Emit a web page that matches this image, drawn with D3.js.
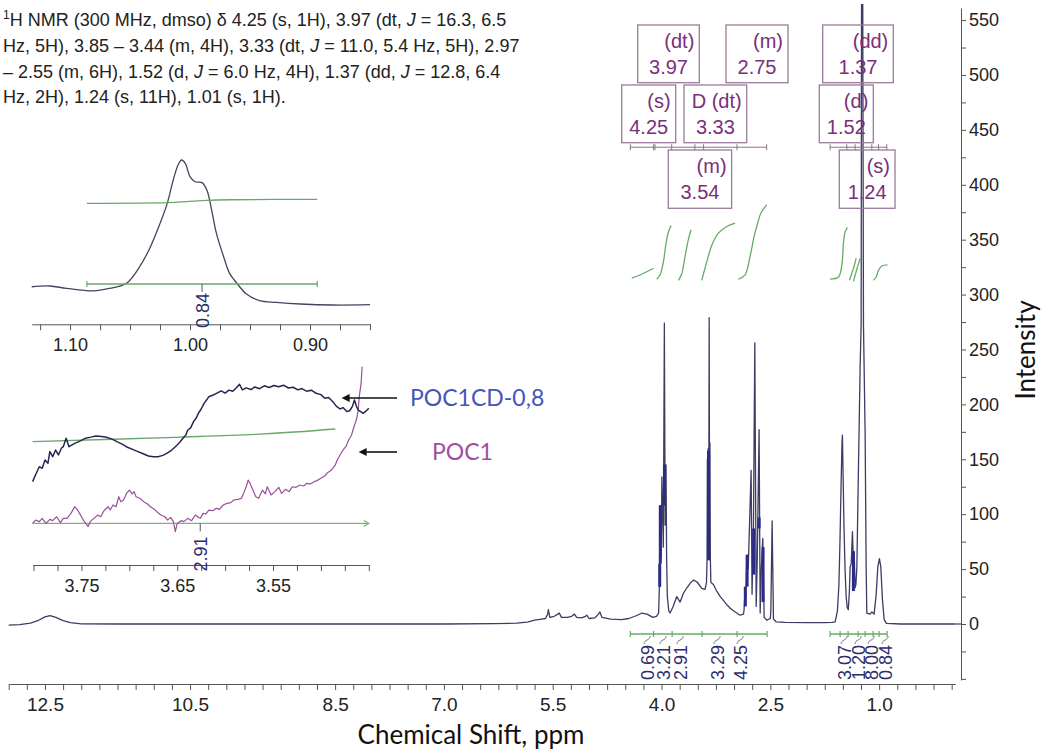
<!DOCTYPE html>
<html>
<head>
<meta charset="utf-8">
<script src="https://cdn.jsdelivr.net/npm/d3@7"></script>
<style>
body { margin: 0; background: #fff; }
svg { display: block; }
text { font-family: "Liberation Sans", Arial, sans-serif; }
</style>
</head>
<body>
<div id="chart"></div>
<script>
var svg_width = 1041;
var svg_height = 749;

// ---------- data ----------

// Main spectrum [ppm, intensity]
var spectrum = [
  [13.0,-1],[12.85,-0.5],[12.7,0.8],[12.6,3],[12.5,6.5],[12.43,7.6],[12.35,6],[12.25,3],[12.15,1.2],[12.0,0.2],
  [11.5,0],[9.0,0],[7.0,0],[6.3,0.3],[6.0,0.8],[5.85,1.8],[5.75,3.5],[5.65,4.5],[5.6,5],[5.57,9],[5.56,13],[5.54,6],
  [5.48,7],[5.43,9],[5.41,10],[5.38,6],[5.3,6],[5.24,7],[5.2,9],[5.17,6],[5.1,5.5],[5.05,7],[5.03,8],[5.0,5],
  [4.92,5.5],[4.87,9],[4.85,11],[4.82,6],[4.7,4.5],[4.55,4],[4.45,5],[4.35,7.5],[4.27,10],[4.2,9],[4.12,6],[4.07,7],[4.04,10],
  [4.03,34],[4.024,55],[4.02,34],[4.016,108],[4.005,60],[3.995,134],[3.975,70],[3.961,274],[3.950,90],[3.938,145],
  [3.93,60],[3.92,25],[3.90,12],[3.882,10],
  [3.84,16],[3.79,25],[3.744,20],[3.698,28],[3.65,33],[3.606,37],[3.56,40],[3.514,38.5],[3.478,35.5],[3.445,32.5],[3.40,31.6],[3.38,38],
  [3.372,60],[3.368,150],[3.362,70],[3.356,160],[3.350,80],[3.343,279],[3.338,90],[3.333,165],[3.327,60],[3.32,38],
  [3.285,36],[3.24,30],[3.19,25],[3.10,17.6],[3.055,14.6],[3.01,12],[2.917,8],[2.87,9],[2.862,13],
  [2.848,31],[2.842,20],[2.835,35],[2.824,61],[2.815,63],[2.805,50],[2.765,140],[2.752,27],[2.733,87],[2.714,256],
  [2.695,16],[2.68,60],[2.655,177],[2.64,10],[2.625,50],[2.604,78],[2.585,6],[2.549,3.6],[2.50,5],[2.493,12],[2.475,94],
  [2.457,4.5],[2.42,2],[2.3,1.5],[2.0,1.2],[1.75,1.2],[1.65,1.5],
  [1.607,2],[1.575,12],[1.555,35],[1.54,75],[1.525,125],[1.512,165],[1.506,172],[1.498,140],[1.485,90],[1.47,50],
  [1.455,25],[1.44,15],[1.425,13],[1.41,30],[1.40,52],[1.385,55],[1.368,84],[1.358,64],[1.345,66],[1.331,33],[1.32,36],
  [1.307,52],[1.285,143],[1.262,234],[1.248,273],[1.241,650],[1.229,650],[1.216,273],[1.193,173],[1.179,52],[1.17,10],
  [1.124,9],[1.10,11],[1.069,9],[1.041,27],[1.018,52],[0.996,59.5],[0.977,52],[0.954,22],[0.931,4],[0.9,0.5],[0.7,0],[-0.05,0]
];

// overlapping lines that print as a dark band [ppm, low, high]
var dense_bands = [
  [4.025,34,55],[4.017,55,108],[3.96,108,145],[3.352,58,158],
  [2.845,16,34],[2.82,34,63],[2.73,45,87],[2.655,87,97],[2.60,20,70],[1.355,30,66]
];

var x_tick_labels = [12.5, 10.5, 8.5, 7.0, 5.5, 4.0, 2.5, 1.0];

// integrals under the spectrum
var integral_left = ["0.69", "3.21", "2.91", "3.29", "4.25"];
var integral_right = ["3.07", "1.20", "8.00", "0.84"];
var integral_left_ticks = [4.43, 4.11, 3.854, 3.44, 2.958, 2.545];
var integral_right_ticks = [1.676, 1.538, 1.428, 1.29, 1.193, 1.083, 1.0, 0.89];

// integral curves [ppm, intensity]
var integral_curves = [
  [[4.41,315],[4.26,319],[4.11,324]],
  [[4.065,314],[4.02,318],[3.974,330],[3.937,347],[3.905,357],[3.868,363]],
  [[3.767,313],[3.721,319],[3.675,335],[3.63,350],[3.593,359]],
  [[3.445,313],[3.376,330],[3.307,345],[3.216,356],[3.10,362],[2.986,365]],
  [[2.94,314],[2.848,318],[2.779,335],[2.724,353],[2.687,362],[2.631,374],[2.549,382]],
  [[1.676,314],[1.561,316],[1.514,327],[1.492,347],[1.469,357],[1.437,361]],
  [[1.41,313],[1.363,322],[1.317,333]],
  [[1.354,312],[1.299,325],[1.262,333]],
  [[1.079,313],[1.04,316],[1.01,322],[0.963,326],[0.886,327]]
];

// multiplet labels
var multiplet_kind = ["(dt)", "(m)", "(s)", "D (dt)", "(m)", "(dd)", "(d)", "(s)"];
var multiplet_shift = ["3.97", "2.75", "4.25", "3.33", "3.54", "1.37", "1.52", "1.24"];
var multiplet_left_ticks = [4.43, 4.11, 4.09, 3.86, 3.54, 3.42, 2.96, 2.55];
var multiplet_right_ticks = [1.676, 1.446, 1.331, 1.216, 1.101, 1.009, 0.894];

// inset 1 : peak near 1.00 ppm [ppm, relative]
var inset1_trace = [
  [1.132,12.6],[1.117,13.1],[1.103,11.5],[1.081,9.7],[1.067,11.5],[1.053,15],[1.042,26.4],[1.033,40.2],
  [1.025,56.3],[1.019,70.1],[1.014,86.2],[1.010,96.6],[1.007,100],[1.004,97.7],[1.000,88.5],[0.996,85],
  [0.990,84.4],[0.986,79.3],[0.982,65.5],[0.978,49.4],[0.972,33.3],[0.967,21.8],[0.961,15],[0.953,7.6],
  [0.942,3],[0.928,1.8],[0.908,0.7],[0.881,0],[0.85,0.2]
];
var inset1_integral = [[1.086,70.1],[1.019,70.6],[1.003,71.3],[0.986,72.2],[0.964,72.6],[0.894,72.9]];
var inset1_ticks = [1.10, 1.00, 0.90];
var inset1_value = "0.84";

// inset 2 : 3.45 - 3.80 ppm, two samples [ppm, relative]
var inset2_poc1cd = [
  [3.801,29.9],[3.798,34.5],[3.794,40.2],[3.791,39.1],[3.788,44.8],[3.785,42.5],[3.783,50.6],[3.780,47.1],
  [3.777,51.7],[3.774,48.3],[3.771,52.9],[3.769,54],[3.766,59.8],[3.763,54],[3.757,56.3],[3.751,58],
  [3.746,59.8],[3.740,60.6],[3.735,61.4],[3.729,61],[3.724,60.5],[3.718,59.2],[3.713,57.5],[3.707,55.6],
  [3.702,53.6],[3.696,52],[3.691,50.6],[3.685,49],[3.680,47.6],[3.675,47],[3.670,47.1],[3.665,48],
  [3.661,49.4],[3.656,51.5],[3.652,54],[3.648,56.5],[3.644,59.8],[3.641,62],[3.639,65.5],[3.636,67],
  [3.633,71.3],[3.630,74],[3.628,77],[3.625,80],[3.622,83.9],[3.619,86.5],[3.617,88.5],[3.613,89.5],
  [3.609,90.8],[3.604,92.5],[3.600,91],[3.596,93],[3.592,92.2],[3.588,94.8],[3.585,97],[3.582,93.2],
  [3.578,94.6],[3.573,93.4],[3.569,95.2],[3.564,94],[3.559,96],[3.554,94.8],[3.549,96.2],[3.544,95.3],
  [3.539,96.4],[3.534,94.5],[3.529,95],[3.524,93.2],[3.520,94.1],[3.515,92.3],[3.510,93],[3.505,90.8],
  [3.500,89.9],[3.496,87.4],[3.492,88],[3.487,84.6],[3.484,82],[3.480,80],[3.477,81],[3.473,78.2],
  [3.470,78.8],[3.467,82],[3.465,86.2],[3.463,82],[3.461,79.3],[3.458,78],[3.456,77],[3.453,78.5],[3.450,80.5]
];
var inset2_poc1 = [
  [3.801,1.1],[3.798,3.4],[3.794,2.3],[3.791,4.6],[3.787,1.1],[3.783,3.9],[3.780,3.0],[3.776,5.7],
  [3.772,1.6],[3.769,4.6],[3.765,4.6],[3.761,8.0],[3.757,12.6],[3.754,10.3],[3.752,8.0],[3.748,3.4],
  [3.743,-1.1],[3.741,2.3],[3.737,4.6],[3.733,6.9],[3.730,5.7],[3.726,10.3],[3.722,12.6],[3.720,10.3],
  [3.717,13.8],[3.714,12.6],[3.711,19.5],[3.709,16.1],[3.706,17.2],[3.703,21.8],[3.700,24.1],[3.697,21.4],
  [3.695,23],[3.693,19.5],[3.689,18.4],[3.685,16.1],[3.681,14.5],[3.678,12.6],[3.674,10.8],[3.670,8.5],
  [3.667,6.9],[3.663,5.7],[3.660,3.4],[3.657,5.3],[3.654,2.3],[3.652,-4.6],[3.650,1.1],[3.646,3.0],
  [3.643,2.3],[3.639,4.6],[3.635,3.0],[3.631,6.9],[3.628,5.3],[3.626,4.6],[3.623,8.0],[3.620,7.6],
  [3.617,10.3],[3.613,9.9],[3.609,11.5],[3.606,10.8],[3.602,13.8],[3.598,14.9],[3.594,15.4],[3.591,17.2],
  [3.587,17.7],[3.583,18.4],[3.580,23],[3.578,26.4],[3.576,31],[3.574,28.7],[3.571,24.1],[3.568,19.5],
  [3.565,18.4],[3.561,24.1],[3.558,21.4],[3.556,26.4],[3.552,20.7],[3.548,23],[3.544,26],[3.541,21.8],
  [3.537,24.6],[3.533,23],[3.530,26.4],[3.526,26],[3.522,27.6],[3.518,26.9],[3.515,28.7],[3.511,28.3],
  [3.507,29.9],[3.504,30.6],[3.500,32.2],[3.496,33.8],[3.493,36.1],[3.489,37.9],[3.485,41.4],[3.483,44.8],
  [3.480,48.3],[3.477,51.7],[3.474,54],[3.471,58.6],[3.468,62.1],[3.466,66.7],[3.463,72.4],[3.461,79.3],
  [3.460,88.5],[3.458,97.7],[3.457,109.2]
];
var inset2_integral = [[3.801,57.5],[3.652,60.5],[3.559,62.8],[3.485,66.2]];
var inset2_ticks = [3.75, 3.65, 3.55];
var inset2_value = "2.91";
var sample_names = ["POC1CD-0,8", "POC1"];

// assignment text, [text, style]
var nmr_lines = [
  [["1", "sup"], ["H NMR (300 MHz, dmso) δ 4.25 (s, 1H), 3.97 (dt, ", "after"], ["J", "i"], [" = 16.3, 6.5"]],
  [["Hz, 5H), 3.85 – 3.44 (m, 4H), 3.33 (dt, "], ["J", "i"], [" = 11.0, 5.4 Hz, 5H), 2.97"]],
  [["– 2.55 (m, 6H), 1.52 (d, "], ["J", "i"], [" = 6.0 Hz, 4H), 1.37 (dd, "], ["J", "i"], [" = 12.8, 6.4"]],
  [["Hz, 2H), 1.24 (s, 11H), 1.01 (s, 1H)."]]
];

// ---------- layout ----------
var svg = d3.select("#chart").append("svg")
  .attr("width", svg_width)
  .attr("height", svg_height);

var x_scale = d3.scaleLinear().domain([13, -0.05]).range([8.7, 955.3]);
var y_scale = d3.scaleLinear().domain([-51, 561]).range([680, 8]);

var ink = "#3c3c64";
var green = "#66aa66";
var purple = "#7a2f7a";

svg.append("clipPath").attr("id", "plotclip")
  .append("rect").attr("x", 8).attr("y", 4).attr("width", 950).attr("height", 680);

// spectrum line
var line_main = d3.line()
  .x(d => x_scale(d[0]))
  .y(d => y_scale(d[1]));

var plot = svg.append("g").attr("clip-path", "url(#plotclip)");

plot.append("path")
  .datum(spectrum)
  .attr("d", line_main)
  .attr("fill", "none")
  .attr("stroke", ink)
  .attr("stroke-width", 1.3)
  .attr("stroke-linejoin", "round");

plot.selectAll(".dense")
  .data(dense_bands)
  .enter()
  .append("rect")
  .attr("x", d => x_scale(d[0]) - 1.5)
  .attr("width", 3)
  .attr("y", d => y_scale(d[2]))
  .attr("height", d => y_scale(d[1]) - y_scale(d[2]))
  .attr("fill", "#2b2b8c");

// x axis
var x_axis = d3.axisBottom(x_scale)
  .tickValues(d3.range(0, 53).map(i => 13 - i * 0.25))
  .tickSize(6)
  .tickSizeOuter(0)
  .tickPadding(8)
  .tickFormat(d => x_tick_labels.indexOf(d) >= 0 ? d.toFixed(1) : "");

var gx = svg.append("g")
  .attr("transform", "translate(0,684)")
  .call(x_axis);
gx.select(".domain").attr("stroke", "#555");
gx.selectAll(".tick line").attr("stroke", "#555");
gx.selectAll("text").attr("font-size", 19).attr("fill", "#222")
  .style("font-family", "'Liberation Sans', Arial, sans-serif");

// y axis on the right
var y_axis = d3.axisRight(y_scale)
  .tickValues(d3.range(-50, 551, 25))
  .tickSize(5)
  .tickSizeOuter(0)
  .tickPadding(3)
  .tickFormat(d => (d >= 0 && d % 50 === 0) ? d : "");

var gy = svg.append("g")
  .attr("transform", "translate(961,0)")
  .call(y_axis);
gy.select(".domain").attr("stroke", "#555");
gy.selectAll(".tick line").attr("stroke", "#555");
gy.selectAll("text").attr("font-size", 18).attr("fill", "#222")
  .style("font-family", "'Liberation Sans', Arial, sans-serif");

// baseline stub between spectrum end and axis
svg.append("line")
  .attr("x1", x_scale(-0.05)).attr("x2", 961)
  .attr("y1", y_scale(0)).attr("y2", y_scale(0))
  .attr("stroke", ink).attr("stroke-width", 1.2);

// axis titles
svg.append("text")
  .attr("x", 471).attr("y", 744)
  .attr("text-anchor", "middle")
  .style("font-family", "Lato, 'Open Sans', sans-serif")
  .attr("font-size", 26)
  .attr("fill", "#111")
  .text("Chemical Shift, ppm");

svg.append("text")
  .attr("transform", "translate(1035,350) rotate(-90)")
  .attr("text-anchor", "middle")
  .style("font-family", "Lato, 'Open Sans', sans-serif")
  .attr("font-size", 26)
  .attr("fill", "#111")
  .text("Intensity");

// ---------- integrals ----------
var line_curve = d3.line()
  .x(d => x_scale(d[0]))
  .y(d => y_scale(d[1]))
  .curve(d3.curveCatmullRom.alpha(0.5));

svg.selectAll(".intcurve")
  .data(integral_curves)
  .enter()
  .append("path")
  .attr("d", line_curve)
  .attr("fill", "none")
  .attr("stroke", green)
  .attr("stroke-width", 1.3);

var bar_y = y_scale(-9.1);
[integral_left_ticks, integral_right_ticks].forEach(function(ticks) {
  svg.append("line")
    .attr("x1", x_scale(ticks[0])).attr("x2", x_scale(ticks[ticks.length - 1]))
    .attr("y1", bar_y).attr("y2", bar_y)
    .attr("stroke", green).attr("stroke-width", 1.3);
  svg.selectAll(null)
    .data(ticks)
    .enter()
    .append("line")
    .attr("x1", d => x_scale(d)).attr("x2", d => x_scale(d))
    .attr("y1", bar_y - 3).attr("y2", bar_y + 3)
    .attr("stroke", green).attr("stroke-width", 1.2);
});

// label positions (ppm) under the bars
var int_left_at = [4.199, 3.979, 3.744, 3.234, 2.917];
var int_right_at = [1.483, 1.29, 1.11, 0.917];

function intLabel(value, px, top) {
  // small hook from the bar down to the label
  svg.append("path")
    .attr("d", `M${px - 3},${top - 1}C${px - 3},${top - 6} ${px + 3},${top - 4} ${px + 3},${top - 9}`)
    .attr("fill", "none").attr("stroke", "#777").attr("stroke-width", 1);
  svg.append("text")
    .attr("transform", `translate(${px},${top}) rotate(-90)`)
    .attr("text-anchor", "end")
    .attr("dy", "0.36em")
    .attr("font-size", 18)
    .attr("fill", "#2e2e6e")
    .text(value);
}
integral_left.forEach((v, i) => intLabel(v, x_scale(int_left_at[i]), 645));
integral_right.forEach((v, i) => intLabel(v, x_scale(int_right_at[i]), 645));

// ---------- multiplet boxes ----------
var bar_m = y_scale(434.2);
[multiplet_left_ticks, multiplet_right_ticks].forEach(function(ticks) {
  svg.append("line")
    .attr("x1", x_scale(ticks[0])).attr("x2", x_scale(ticks[ticks.length - 1]))
    .attr("y1", bar_m).attr("y2", bar_m)
    .attr("stroke", "#8f7090").attr("stroke-width", 1);
  svg.selectAll(null)
    .data(ticks)
    .enter()
    .append("line")
    .attr("x1", d => x_scale(d)).attr("x2", d => x_scale(d))
    .attr("y1", bar_m - 3).attr("y2", bar_m + 3)
    .attr("stroke", "#8f7090").attr("stroke-width", 1);
});

var box_layout = [
  [637.7, 25, 61.6, 57.7], [726, 25, 62, 57.7], [621.7, 85, 54, 57.7], [684, 85, 62.7, 57.7],
  [668.3, 150, 63.3, 58.3], [822.7, 25, 70.6, 57.7], [819.3, 85, 54, 57.7], [839.3, 150, 55.7, 58.3]
];

var boxes = svg.selectAll(".mbox")
  .data(multiplet_kind)
  .enter()
  .append("g")
  .attr("transform", (d, i) => `translate(${box_layout[i][0]},${box_layout[i][1]})`);

boxes.append("rect")
  .attr("width", (d, i) => box_layout[i][2])
  .attr("height", (d, i) => box_layout[i][3])
  .attr("fill", "none")
  .attr("stroke", "#9b7a9b")
  .attr("stroke-width", 1.3);

boxes.append("text")
  .attr("x", (d, i) => box_layout[i][2] - 5)
  .attr("y", 23)
  .attr("text-anchor", "end")
  .attr("font-size", 20)
  .attr("fill", purple)
  .text(d => d);

boxes.append("text")
  .attr("x", (d, i) => box_layout[i][2] / 2)
  .attr("y", 49)
  .attr("text-anchor", "middle")
  .attr("font-size", 20)
  .attr("fill", purple)
  .text((d, i) => multiplet_shift[i]);

// ---------- assignment text ----------
var nmr_text = svg.append("g");
nmr_lines.forEach(function(parts, i) {
  var t = nmr_text.append("text")
    .attr("x", 3)
    .attr("y", 26 + i * 25.8)
    .attr("font-size", 18)
    .attr("fill", "#222");
  parts.forEach(function(p) {
    var s = t.append("tspan").text(p[0]);
    if (p[1] === "i") s.attr("font-style", "italic");
    if (p[1] === "sup") s.attr("font-size", 12).attr("dy", -7);
    if (p[1] === "after") s.attr("dy", 7);
  });
});

// ---------- inset 1 ----------
var x_in1 = d3.scaleLinear().domain([1.132, 0.85]).range([31.7, 370]);
var y_in1 = d3.scaleLinear().domain([0, 100]).range([305, 160]);
var in1 = svg.append("g");

in1.append("path")
  .datum(inset1_trace)
  .attr("d", d3.line().x(d => x_in1(d[0])).y(d => y_in1(d[1])).curve(d3.curveCatmullRom.alpha(0.5)))
  .attr("fill", "none").attr("stroke", "#44445e").attr("stroke-width", 1.3);

in1.append("path")
  .datum(inset1_integral)
  .attr("d", d3.line().x(d => x_in1(d[0])).y(d => y_in1(d[1])).curve(d3.curveCatmullRom.alpha(0.5)))
  .attr("fill", "none").attr("stroke", green).attr("stroke-width", 1.3);

var in1_bar = y_in1(14.5);
in1.append("line")
  .attr("x1", x_in1(1.086)).attr("x2", x_in1(0.894))
  .attr("y1", in1_bar).attr("y2", in1_bar)
  .attr("stroke", green).attr("stroke-width", 1.3);
[1.086, 0.894].forEach(function(p) {
  in1.append("line")
    .attr("x1", x_in1(p)).attr("x2", x_in1(p))
    .attr("y1", in1_bar - 3).attr("y2", in1_bar + 3)
    .attr("stroke", green).attr("stroke-width", 1.2);
});
in1.append("line")
  .attr("x1", x_in1(0.99)).attr("x2", x_in1(0.99))
  .attr("y1", in1_bar).attr("y2", in1_bar + 8)
  .attr("stroke", "#555").attr("stroke-width", 1);

var in1_axis = d3.axisBottom(x_in1)
  .tickValues(d3.range(0, 12).map(i => (1125 - i * 25) / 1000))
  .tickSize(6).tickSizeOuter(0).tickPadding(8)
  .tickFormat(d => inset1_ticks.indexOf(d) >= 0 ? d.toFixed(2) : "");
var g_in1 = in1.append("g").attr("transform", "translate(0,324.3)").call(in1_axis);
g_in1.select(".domain").attr("stroke", "#555");
g_in1.selectAll(".tick line").attr("stroke", "#555");
g_in1.selectAll("text").attr("font-size", 18).attr("fill", "#222")
  .style("font-family", "'Liberation Sans', Arial, sans-serif");

in1.append("text")
  .attr("transform", `translate(${x_in1(0.99)},${in1_bar + 9}) rotate(-90)`)
  .attr("text-anchor", "end")
  .attr("dy", "0.36em")
  .attr("font-size", 18)
  .attr("fill", "#2e2e6e")
  .text(inset1_value);

// ---------- inset 2 ----------
var x_in2 = d3.scaleLinear().domain([3.801, 3.45]).range([32.6, 368.8]);
var y_in2 = d3.scaleLinear().domain([0, 100]).range([525, 380]);
var in2 = svg.append("g");
var line_in2 = d3.line().x(d => x_in2(d[0])).y(d => y_in2(d[1]));

in2.append("path")
  .datum(inset2_integral)
  .attr("d", line_in2.curve(d3.curveCatmullRom.alpha(0.5)))
  .attr("fill", "none").attr("stroke", green).attr("stroke-width", 1.3);
line_in2.curve(d3.curveLinear);

var in2_bar = y_in2(1.1);
in2.append("line")
  .attr("x1", x_in2(3.801)).attr("x2", x_in2(3.45))
  .attr("y1", in2_bar).attr("y2", in2_bar)
  .attr("stroke", "#7fb27f").attr("stroke-width", 1.3);
in2.append("path")
  .attr("d", `M${x_in2(3.45) - 5},${in2_bar - 3}L${x_in2(3.45)},${in2_bar}L${x_in2(3.45) - 5},${in2_bar + 3}`)
  .attr("fill", "none").attr("stroke", "#7fb27f").attr("stroke-width", 1.2);
in2.append("line")
  .attr("x1", x_in2(3.626)).attr("x2", x_in2(3.626))
  .attr("y1", in2_bar).attr("y2", in2_bar + 8)
  .attr("stroke", "#555").attr("stroke-width", 1);

in2.append("path")
  .datum(inset2_poc1)
  .attr("d", line_in2)
  .attr("fill", "none").attr("stroke", "#9b4f9b").attr("stroke-width", 1.2)
  .attr("stroke-linejoin", "round");

in2.append("path")
  .datum(inset2_poc1cd)
  .attr("d", line_in2)
  .attr("fill", "none").attr("stroke", "#262650").attr("stroke-width", 1.5)
  .attr("stroke-linejoin", "round");

var in2_axis = d3.axisBottom(x_in2)
  .tickValues(d3.range(0, 15).map(i => (3800 - i * 25) / 1000))
  .tickSize(6).tickSizeOuter(0).tickPadding(8)
  .tickFormat(d => inset2_ticks.indexOf(d) >= 0 ? d.toFixed(2) : "");
var g_in2 = in2.append("g").attr("transform", "translate(0,565)").call(in2_axis);
g_in2.select(".domain").attr("stroke", "#555");
g_in2.selectAll(".tick line").attr("stroke", "#555");
g_in2.selectAll("text").attr("font-size", 18).attr("fill", "#222")
  .style("font-family", "'Liberation Sans', Arial, sans-serif");

in2.append("text")
  .attr("transform", `translate(${x_in2(3.626)},${in2_bar + 13}) rotate(-90)`)
  .attr("text-anchor", "end")
  .attr("dy", "0.36em")
  .attr("font-size", 18)
  .attr("fill", "#2e2e6e")
  .text(inset2_value);

// sample arrows
svg.append("defs").append("marker")
  .attr("id", "head")
  .attr("viewBox", "0 0 10 10")
  .attr("refX", 2).attr("refY", 5)
  .attr("markerUnits", "userSpaceOnUse")
  .attr("markerWidth", 10).attr("markerHeight", 8)
  .attr("orient", "auto")
  .append("path").attr("d", "M0,0L10,5L0,10Z").attr("fill", "#111");

var arrows = [[397, 340, 398], [397, 357, 452]];
var name_colors = ["#4455bb", "#a04ea0"];
var name_x = [410, 432];

sample_names.forEach(function(name, i) {
  svg.append("line")
    .attr("x1", arrows[i][0]).attr("x2", arrows[i][1] + 8)
    .attr("y1", arrows[i][2]).attr("y2", arrows[i][2])
    .attr("stroke", "#111").attr("stroke-width", 1.6)
    .attr("marker-end", "url(#head)");
  svg.append("text")
    .attr("x", name_x[i]).attr("y", arrows[i][2])
    .attr("dy", "0.35em")
    .style("font-family", "Lato, 'Open Sans', sans-serif")
    .attr("font-size", 23)
    .attr("fill", name_colors[i])
    .text(name);
});
</script>
</body>
</html>
